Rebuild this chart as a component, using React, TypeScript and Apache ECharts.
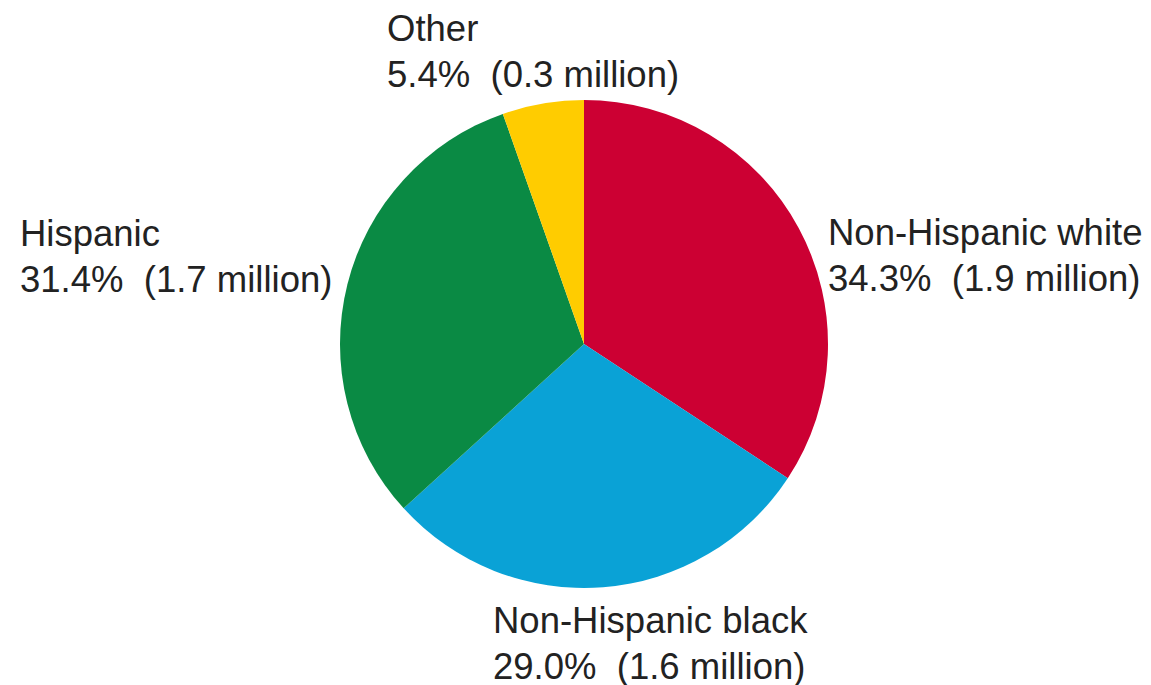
import React, { useEffect, useRef } from "react";
import * as echarts from "echarts";

const categories = ["Non-Hispanic white", "Non-Hispanic black", "Hispanic", "Other"];
const percents = [34.3, 29.0, 31.4, 5.4];
const millions = [1.9, 1.6, 1.7, 0.3];
const colors = ["#cc0033", "#0aa2d6", "#0a8a44", "#ffcc00"];
// label anchor (top-left) positions, layout only
const labelPos: [number, number][] = [
  [828, 209],
  [493, 597],
  [20, 210],
  [387, 5],
];

export default function App() {
  const ref = useRef<HTMLDivElement>(null);
  useEffect(() => {
    if (!ref.current) return;
    const chart = echarts.init(ref.current, undefined, { renderer: "svg" });
    chart.setOption({
      animation: false,
      backgroundColor: "#ffffff",
      series: [
        {
          type: "pie",
          center: [584, 344],
          radius: [0, 244],
          startAngle: 90,
          clockwise: true,
          label: { show: false },
          labelLine: { show: false },
          emphasis: { disabled: true },
          itemStyle: { borderWidth: 0 },
          data: categories.map((c, i) => ({
            name: c,
            value: percents[i],
            itemStyle: { color: colors[i] },
          })),
        },
      ],
      graphic: categories.map((c, i) => ({
        type: "text",
        x: labelPos[i][0],
        y: labelPos[i][1],
        style: {
          text: `${c}\n${percents[i].toFixed(1)}%  (${millions[i].toFixed(1)} million)`,
          font: '36.5px "Liberation Sans", Arial, sans-serif',
          lineHeight: 46,
          fill: "#222222",
          textAlign: "left",
          textVerticalAlign: "top",
        },
      })),
    });
    return () => chart.dispose();
  }, []);
  return (
    <div
      ref={ref}
      style={{ position: "fixed", left: 0, top: 0, width: 1151, height: 685 }}
    />
  );
}
